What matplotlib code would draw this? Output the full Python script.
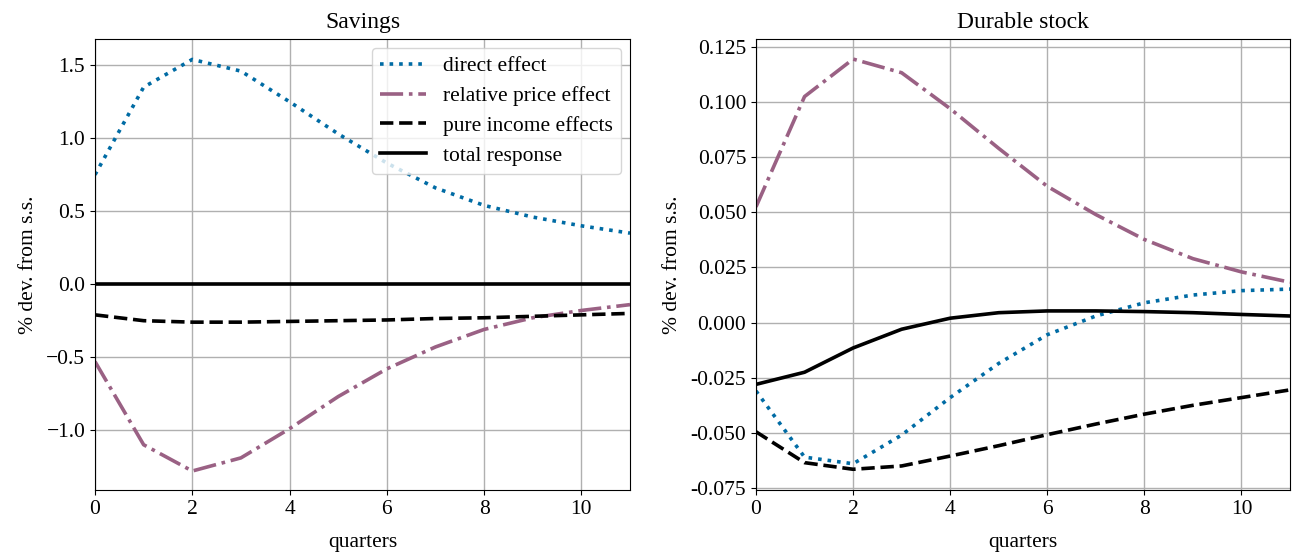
import matplotlib.pyplot as plt
import numpy as np

plt.rcParams['font.family'] = ['Liberation Serif', 'DejaVu Serif']
plt.rcParams['axes.unicode_minus'] = True

quarters = np.arange(12)

# Savings panel
sav_direct = [0.75, 1.35, 1.54, 1.46, 1.25, 1.03, 0.83, 0.66, 0.54, 0.46, 0.40, 0.35]
sav_relprice = [-0.53, -1.10, -1.28, -1.19, -0.99, -0.77, -0.58, -0.43, -0.31, -0.23, -0.18, -0.14]
sav_income = [-0.21, -0.25, -0.26, -0.26, -0.255, -0.25, -0.245, -0.235, -0.23, -0.22, -0.21, -0.20]
sav_total = [0.0, 0.0, 0.0, 0.0, 0.0, 0.0, 0.0, 0.0, 0.0, 0.0, 0.0, 0.0]

# Durable stock panel
dur_direct = [-0.031, -0.061, -0.064, -0.051, -0.034, -0.0185, -0.0055, 0.003, 0.009, 0.0125, 0.0145, 0.0152]
dur_relprice = [0.0525, 0.1025, 0.1195, 0.1133, 0.0970, 0.0790, 0.0618, 0.0490, 0.0377, 0.0290, 0.0230, 0.0183]
dur_income = [-0.0495, -0.0635, -0.0665, -0.065, -0.0605, -0.0558, -0.0508, -0.046, -0.0415, -0.0375, -0.034, -0.0305]
dur_total = [-0.028, -0.0225, -0.0115, -0.003, 0.002, 0.0045, 0.0053, 0.0053, 0.005, 0.0045, 0.0037, 0.003]

labels = ['direct effect', 'relative price effect', 'pure income effects', 'total response']
styles = [dict(color='#006ba4', linestyle=':'),
          dict(color='#9a6184', linestyle='-.'),
          dict(color='black', linestyle='--'),
          dict(color='black', linestyle='-')]

fig = plt.figure(figsize=(12.94, 5.54), dpi=100)
ax1 = fig.add_axes([95 / 1294, 1 - 490 / 554, 535 / 1294, 451 / 554])
ax2 = fig.add_axes([756 / 1294, 1 - 490 / 554, 534 / 1294, 451 / 554])

panels = [(ax1, 'Savings', [sav_direct, sav_relprice, sav_income, sav_total]),
          (ax2, 'Durable stock', [dur_direct, dur_relprice, dur_income, dur_total])]

for ax, title, series in panels:
    for y, lab, st in zip(series, labels, styles):
        ax.plot(quarters, y, label=lab, linewidth=2.6, **st)
    ax.set_title(title, fontsize=17, pad=8)
    ax.set_xlabel('quarters', fontsize=15.5, labelpad=10)
    ax.set_ylabel('% dev. from s.s.', fontsize=15.5, labelpad=6)
    ax.set_xlim(0, 11)
    ax.grid(True, color='#b0b0b0', linewidth=1)
    ax.tick_params(labelsize=15.5)

ax1.set_ylim(-1.41, 1.68)
ax1.set_yticks([-1.0, -0.5, 0.0, 0.5, 1.0, 1.5])
ax2.set_ylim(-0.0759, 0.1286)
ax2.set_yticks(np.arange(-0.075, 0.126, 0.025))
ax2.yaxis.set_major_formatter(plt.FormatStrFormatter('%.3f'))

ax1.legend(loc='upper right', fontsize=15.5, handlelength=2.1, borderaxespad=0.4,
           labelspacing=0.45, framealpha=0.8)

fig.savefig('out.png', dpi=100)
